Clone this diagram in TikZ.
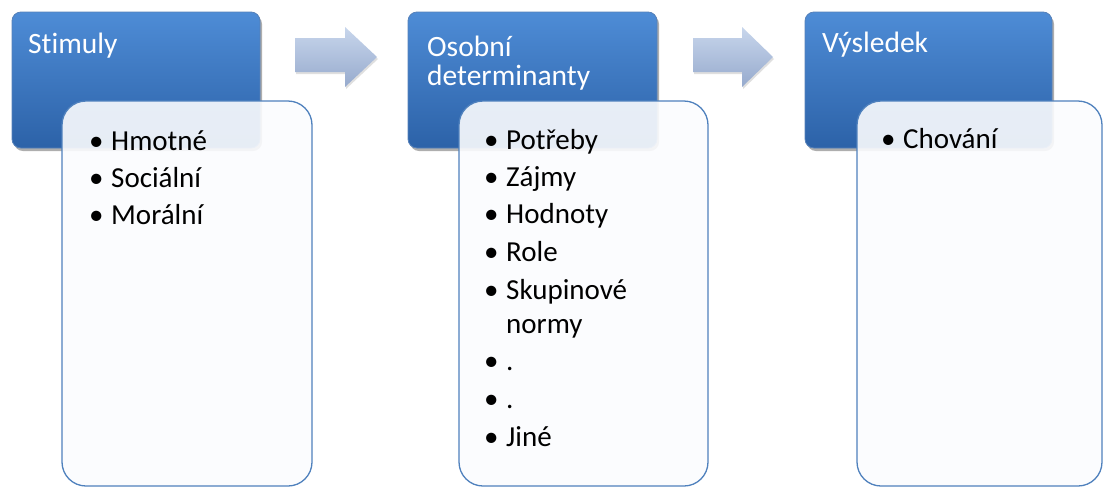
\documentclass[tikz,border=0pt]{standalone}
\usepackage{fontspec}
\setmainfont[Ligatures=NoCommon]{Carlito}
\usetikzlibrary{shadows}
\definecolor{bluetop}{RGB}{78,140,214}
\definecolor{bluebot}{RGB}{44,98,168}
\definecolor{edgeblue}{RGB}{79,129,189}
\definecolor{arrtop}{RGB}{200,214,236}
\definecolor{arrbot}{RGB}{150,170,205}
\definecolor{cardfill}{RGB}{251,252,254}
\tikzset{
  x=1pt, y=-1pt,
  headbox/.style={rounded corners=9pt, top color=bluetop, bottom color=bluebot, draw=bluebot!80!white, line width=0.8pt,
    drop shadow={shadow xshift=2pt, shadow yshift=-3pt, opacity=0.45, fill=black!70}},
  card/.style={rounded corners=24pt, fill=cardfill, fill opacity=0.9, draw=edgeblue, line width=1.3pt},
  flowarrow/.style={top color=arrtop, bottom color=arrbot, draw=none,
    drop shadow={shadow xshift=1pt, shadow yshift=-2pt, opacity=0.25}},
  headtxt/.style={anchor=base west, text=white, font=\fontsize{29.5}{31}\selectfont, inner sep=0pt},
  itemtxt/.style={anchor=base west, text=black, font=\fontsize{29}{31}\selectfont, inner sep=0pt},
  dot/.style={anchor=base west, text=black, font=\fontsize{29}{31}\selectfont, inner sep=0pt},
}
\begin{document}
\begin{tikzpicture}
\useasboundingbox (0,0) rectangle (1105,488);
\fill[white] (0,0) rectangle (1105,488);
% blue header boxes
\draw[headbox] (12,12) rectangle (260,148);
\draw[headbox] (408,12) rectangle (657,148);
\draw[headbox] (805,12) rectangle (1052,148);
% arrows
\path[flowarrow] (295,38) -- (345,38) -- (345,27) -- (377,57) -- (345,87) -- (345,72) -- (295,72) -- cycle;
\path[flowarrow] (693,38) -- (742,38) -- (742,27) -- (773,57) -- (742,87) -- (742,72) -- (693,72) -- cycle;
% cards
\draw[card] (62,101) rectangle (312,486);
\draw[card] (459,101) rectangle (708,486);
\draw[card] (857,101) rectangle (1102,486);
% headers
\node[headtxt] (h1) at (28,53) {Stimuly};
\node[headtxt] (h2a) at (427,56) {Osobní};
\node[headtxt] (h2b) at (427,85) {determinanty};
\node[headtxt] (h3) at (822,52) {Výsledek};
% card 1
\foreach \t/\yy [count=\i] in {Hmotné/150, Sociální/187, Morální/224}{
  \node[dot] (d1\i) at (89,\yy) {\textbullet};
  \node[itemtxt] (t1\i) at (111,\yy) {\t};
}
% card 2
\foreach \t/\yy [count=\i] in {Potřeby/149, Zájmy/186, Hodnoty/223, Role/261, Skupinové/299, ./370, ./408, Jiné/446}{
  \node[dot] (d2\i) at (484,\yy) {\textbullet};
  \node[itemtxt] (t2\i) at (506,\yy) {\t};
}
\node[itemtxt] (t2n) at (506,333) {normy};
% card 3
\node[dot] (d31) at (881,148) {\textbullet};
\node[itemtxt] (t31) at (903,148) {Chování};
\end{tikzpicture}
\end{document}
